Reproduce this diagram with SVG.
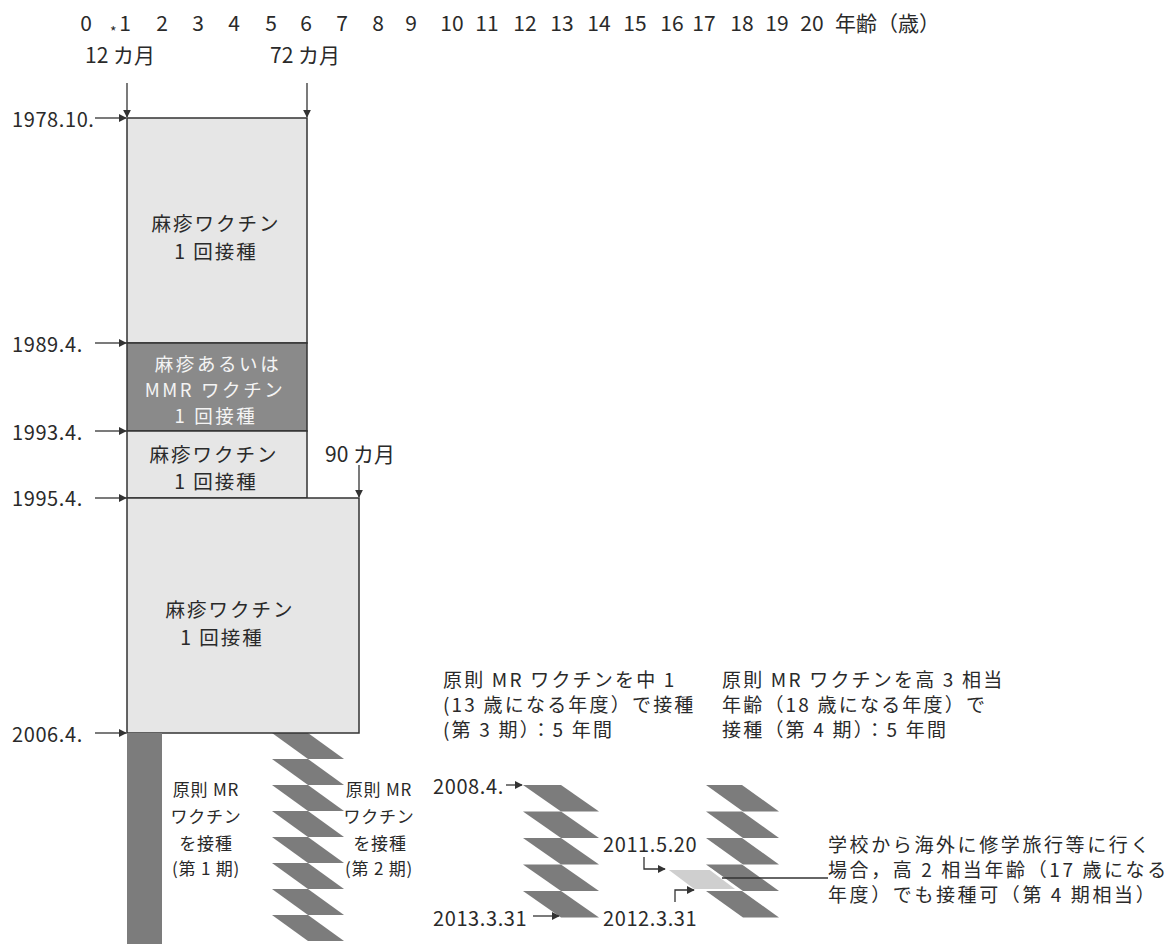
<svg xmlns="http://www.w3.org/2000/svg" width="1171" height="944" viewBox="0 0 1171 944">
<style>
text{font-family:"Noto Sans CJK JP","Noto Sans",sans-serif;fill:#2a2a2a;dominant-baseline:central}
.ax{font-size:21px;text-anchor:middle}
.lbl{font-size:21px}
.dt{font-size:20px;letter-spacing:0.6px}
.bx{font-size:19.5px;letter-spacing:2px;text-anchor:middle}
.wt{fill:#f4f4f4;font-size:18.5px;letter-spacing:2.6px}
.col{font-size:17px;letter-spacing:0.8px;text-anchor:middle}
.nt{font-size:19px;letter-spacing:2.2px}
.tr{font-size:19px;letter-spacing:2.6px}
.light{fill:#e6e6e6;stroke:#333;stroke-width:1.5}
.dark{fill:#8a8a8a;stroke:#333;stroke-width:1.5}
.band{fill:#7c7c7c}
.ln{stroke:#333;stroke-width:1.3;fill:none}
</style>
<defs>
<marker id="ah" viewBox="0 0 10 10" refX="9" refY="5" markerWidth="8" markerHeight="8" markerUnits="userSpaceOnUse" orient="auto">
<path d="M0,0 L10,5 L0,10 Z" fill="#333"/>
</marker>
</defs>
<rect width="1171" height="944" fill="#fff"/>

<g id="axis">
<text class="ax" x="86" y="22">0</text>
<text x="110" y="31" font-size="14">*</text>
<text class="ax" x="125" y="22">1</text>
<text class="ax" x="162" y="22">2</text>
<text class="ax" x="198" y="22">3</text>
<text class="ax" x="234" y="22">4</text>
<text class="ax" x="271" y="22">5</text>
<text class="ax" x="306" y="22">6</text>
<text class="ax" x="342" y="22">7</text>
<text class="ax" x="378" y="22">8</text>
<text class="ax" x="411" y="22">9</text>
<text class="ax" x="452" y="22">10</text>
<text class="ax" x="487" y="22">11</text>
<text class="ax" x="525" y="22">12</text>
<text class="ax" x="562" y="22">13</text>
<text class="ax" x="599" y="22">14</text>
<text class="ax" x="635" y="22">15</text>
<text class="ax" x="672" y="22">16</text>
<text class="ax" x="704" y="22">17</text>
<text class="ax" x="742" y="22">18</text>
<text class="ax" x="777" y="22">19</text>
<text class="ax" x="812" y="22">20</text>
<text class="lbl" x="835" y="22">年齢（歳）</text>
</g>

<g id="month-labels">
<text class="lbl" x="85" y="54">12 カ月</text>
<text class="lbl" x="270" y="54">72 カ月</text>
<text class="lbl" x="325" y="453">90 カ月</text>
</g>

<g id="date-labels">
<text class="dt" x="12" y="118">1978.10.</text>
<text class="dt" x="12" y="343">1989.4.</text>
<text class="dt" x="12" y="431">1993.4.</text>
<text class="dt" x="12" y="497">1995.4.</text>
<text class="dt" x="12" y="733">2006.4.</text>
<text class="dt" x="433" y="785">2008.4.</text>
<text class="dt" x="433" y="917">2013.3.31</text>
<text class="dt" x="603" y="843">2011.5.20</text>
<text class="dt" x="603" y="917">2012.3.31</text>
</g>

<g id="band-period2">
<polygon class="band" points="272,733 308,733 344,759 308,759"/>
<polygon class="band" points="272,759 308,759 344,785 308,785"/>
<polygon class="band" points="272,785 308,785 344,811 308,811"/>
<polygon class="band" points="272,811 308,811 344,837 308,837"/>
<polygon class="band" points="272,837 308,837 344,863 308,863"/>
<polygon class="band" points="272,863 308,863 344,889 308,889"/>
<polygon class="band" points="272,889 308,889 344,915 308,915"/>
<polygon class="band" points="272,915 308,915 344,941 308,941"/>
</g>

<g id="box-1978">
<rect class="light" x="127" y="118" width="180" height="225"/>
<text class="bx" x="216" y="222">麻疹ワクチン</text>
<text class="bx" x="216" y="250">1 回接種</text>
</g>
<g id="box-1989">
<rect class="dark" x="127" y="343" width="180" height="88"/>
<text class="bx wt" x="218" y="363">麻疹あるいは</text>
<text class="bx wt" x="215" y="389">MMR ワクチン</text>
<text class="bx wt" x="216" y="415">1 回接種</text>
</g>
<g id="box-1993">
<rect class="light" x="127" y="431" width="180" height="67"/>
<text class="bx" x="214" y="453">麻疹ワクチン</text>
<text class="bx" x="216" y="480">1 回接種</text>
</g>
<g id="box-1995">
<rect class="light" x="127" y="498" width="232" height="235"/>
<text class="bx" x="230" y="608">麻疹ワクチン</text>
<text class="bx" x="222" y="636">1 回接種</text>
</g>

<g id="bar-period1">
<rect x="127" y="733" width="35" height="211" fill="#7c7c7c"/>
</g>

<g id="label-period1">
<text class="col" x="206" y="788">原則 MR</text>
<text class="col" x="206" y="815">ワクチン</text>
<text class="col" x="206" y="842">を接種</text>
<text class="col" x="206" y="867">(第 1 期)</text>
</g>
<g id="label-period2">
<text class="col" x="379" y="788">原則 MR</text>
<text class="col" x="379" y="815">ワクチン</text>
<text class="col" x="380" y="842">を接種</text>
<text class="col" x="379" y="867">(第 2 期)</text>
</g>

<g id="band-period3">
<polygon class="band" points="523,785 561,785 599,811.5 561,811.5"/>
<polygon class="band" points="523,811.5 561,811.5 599,838 561,838"/>
<polygon class="band" points="523,838 561,838 599,864.5 561,864.5"/>
<polygon class="band" points="523,864.5 561,864.5 599,891 561,891"/>
<polygon class="band" points="523,891 561,891 599,917.5 561,917.5"/>
</g>

<g id="band-period4">
<polygon class="band" points="706,785 742,785 779,811.5 743,811.5"/>
<polygon class="band" points="706,811.5 742,811.5 779,838 743,838"/>
<polygon class="band" points="706,838 742,838 779,864.5 743,864.5"/>
<polygon class="band" points="706,864.5 742,864.5 779,891 743,891"/>
<polygon class="band" points="706,891 742,891 779,917.5 743,917.5"/>
</g>

<g id="band-period4-special">
<polygon points="666,869 710,869 738,890 694,890" fill="#cfcfcf" stroke="#fff" stroke-width="2"/>
</g>

<g id="note-period3">
<text class="nt" x="443" y="678">原則 MR ワクチンを中 1</text>
<text class="nt" x="443" y="703">(13 歳になる年度）で接種</text>
<text class="nt" x="443" y="728">(第 3 期）：5 年間</text>
</g>
<g id="note-period4">
<text class="nt" x="722" y="678">原則 MR ワクチンを高 3 相当</text>
<text class="nt" x="722" y="703">年齢（18 歳になる年度）で</text>
<text class="nt" x="722" y="728">接種（第 4 期）：5 年間</text>
</g>
<g id="note-trip">
<text class="tr" x="828" y="843">学校から海外に修学旅行等に行く</text>
<text class="tr" x="828" y="868">場合，高 2 相当年齢（17 歳になる</text>
<text class="tr" x="828" y="893">年度）でも接種可（第 4 期相当）</text>
</g>

<g id="connectors">
<line class="ln" x1="127" y1="83" x2="127" y2="117" marker-end="url(#ah)"/>
<line class="ln" x1="307" y1="83" x2="307" y2="117" marker-end="url(#ah)"/>
<line class="ln" x1="359" y1="465" x2="359" y2="497" marker-end="url(#ah)"/>
<line class="ln" x1="95" y1="118" x2="126" y2="118" marker-end="url(#ah)"/>
<line class="ln" x1="95" y1="343" x2="126" y2="343" marker-end="url(#ah)"/>
<line class="ln" x1="95" y1="431" x2="126" y2="431" marker-end="url(#ah)"/>
<line class="ln" x1="95" y1="498" x2="126" y2="498" marker-end="url(#ah)"/>
<line class="ln" x1="95" y1="733" x2="126" y2="733" marker-end="url(#ah)"/>
<line class="ln" x1="506" y1="785" x2="522" y2="785" marker-end="url(#ah)"/>
<line class="ln" x1="533" y1="916" x2="559" y2="916" marker-end="url(#ah)"/>
<path class="ln" d="M644,857 V869 H665" marker-end="url(#ah)"/>
<path class="ln" d="M675,902 V890 H694" marker-end="url(#ah)"/>
<line class="ln" x1="722" y1="878" x2="828" y2="878"/>
</g>
</svg>
